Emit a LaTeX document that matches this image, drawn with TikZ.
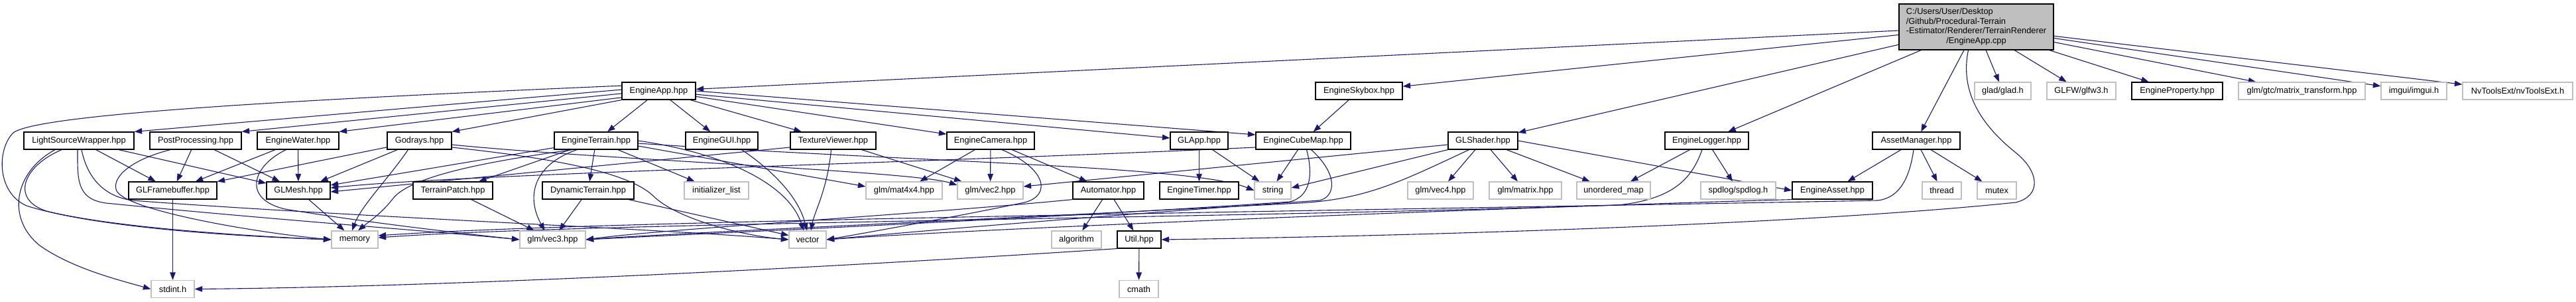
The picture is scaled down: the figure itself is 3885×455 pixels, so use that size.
\documentclass[tikz,border=0pt]{standalone}
\usepackage{fontspec}
\setmainfont{Liberation Sans}
\usetikzlibrary{arrows.meta}
\definecolor{edgec}{HTML}{191970}
\definecolor{greyb}{HTML}{BFBFBF}
\definecolor{rootg}{HTML}{BFBFBF}
\pgfdeclarelayer{bg}
\pgfsetlayers{bg,main}
\begin{document}
\begin{tikzpicture}[x=1pt,y=-1pt,
  every node/.style={font=\fontsize{12.8}{14.8}\selectfont, inner sep=0pt, minimum height=26pt, line width=1.2pt, fill=white},
  hdr/.style={draw=black},
  ext/.style={draw=greyb},
  e/.style={draw=edgec, line width=1.1pt, -{Triangle[length=11.5pt,width=8.5pt]}}]
\useasboundingbox (0,0) rectangle (3885,455);
% root
\node[hdr, fill=rootg, minimum width=233pt, minimum height=69pt] (root) at (2980.5,40.5)
 {\begin{tabular}{@{}l@{}}C:/Users/User/Desktop\\/Github/Procedural-Terrain\\-Estimator/Renderer/TerrainRenderer\\\multicolumn{1}{@{}c@{}}{/EngineApp.cpp}\end{tabular}};
% row A
\node[hdr, minimum width=111pt] (EA) at (993.5,137) {EngineApp.hpp};
\node[hdr, minimum width=131pt] (Sky) at (2049.5,137) {EngineSkybox.hpp};
\node[ext, minimum width=85pt] (glad) at (3020.5,137) {glad/glad.h};
\node[ext, minimum width=104pt] (glfw) at (3139,137) {GLFW/glfw3.h};
\node[hdr, minimum width=137pt] (EProp) at (3283.5,137) {EngineProperty.hpp};
\node[ext, minimum width=191pt] (mtx) at (3471.5,137) {glm/gtc/matrix\_transform.hpp};
\node[ext, minimum width=99pt] (imgui) at (3640.5,137) {imgui/imgui.h};
\node[ext, minimum width=166pt] (nvt) at (3797,137) {NvToolsExt/nvToolsExt.h};
% row B
\node[hdr, minimum width=166pt] (LSW) at (119,212) {LightSourceWrapper.hpp};
\node[hdr, minimum width=138pt] (PP) at (295,212) {PostProcessing.hpp};
\node[hdr, minimum width=123pt] (EW) at (449.5,212) {EngineWater.hpp};
\node[hdr, minimum width=97pt] (God) at (632.5,212) {Godrays.hpp};
\node[hdr, minimum width=126pt] (ET) at (899,212) {EngineTerrain.hpp};
\node[hdr, minimum width=109pt] (GUI) at (1088.5,212) {EngineGUI.hpp};
\node[hdr, minimum width=129pt] (TV) at (1256.5,212) {TextureViewer.hpp};
\node[hdr, minimum width=132pt] (ECam) at (1494,212) {EngineCamera.hpp};
\node[hdr, minimum width=87pt] (GLApp) at (1808.5,212) {GLApp.hpp};
\node[hdr, minimum width=143pt] (ECM) at (1965.5,212) {EngineCubeMap.hpp};
\node[hdr, minimum width=105pt] (GLS) at (2236.5,212) {GLShader.hpp};
\node[hdr, minimum width=126pt] (ELog) at (2574,212) {EngineLogger.hpp};
\node[hdr, minimum width=132pt] (AM) at (2890,212) {AssetManager.hpp};
% row C
\node[hdr, minimum width=133pt] (GLFB) at (260.5,287) {GLFramebuffer.hpp};
\node[hdr, minimum width=96pt] (GLM) at (450,287) {GLMesh.hpp};
\node[hdr, minimum width=120pt] (TP) at (683,287) {TerrainPatch.hpp};
\node[hdr, minimum width=138pt] (DT) at (887,287) {DynamicTerrain.hpp};
\node[ext, minimum width=97pt] (il) at (1080.5,287) {initializer\_list};
\node[ext, minimum width=115pt] (mat4) at (1363.5,287) {glm/mat4x4.hpp};
\node[ext, minimum width=99pt] (vec2) at (1493.5,287) {glm/vec2.hpp};
\node[hdr, minimum width=107pt] (Auto) at (1671.5,287) {Automator.hpp};
\node[hdr, minimum width=119pt] (ETimer) at (1808.5,287) {EngineTimer.hpp};
\node[ext, minimum width=55pt] (str) at (1919.5,287) {string};
\node[ext, minimum width=99pt] (vec4) at (2172.5,287) {glm/vec4.hpp};
\node[ext, minimum width=109pt] (gmat) at (2300.5,287) {glm/matrix.hpp};
\node[ext, minimum width=111pt] (umap) at (2433.5,287) {unordered\_map};
\node[ext, minimum width=113pt] (spd) at (2621.5,287) {spdlog/spdlog.h};
\node[hdr, minimum width=121pt] (EAsset) at (2763.5,287) {EngineAsset.hpp};
\node[ext, minimum width=59pt] (thr) at (2928.5,287) {thread};
\node[ext, minimum width=59pt] (mtxx) at (3011.5,287) {mutex};
% row D
\node[ext, minimum width=70pt] (mem) at (535,361) {memory};
\node[ext, minimum width=99pt] (vec3) at (833.5,361) {glm/vec3.hpp};
\node[ext, minimum width=56pt] (vect) at (1218,361) {vector};
\node[ext, minimum width=75pt] (algo) at (1623.5,361) {algorithm};
\node[hdr, minimum width=66pt] (util) at (1718,361) {Util.hpp};
% row E
\node[ext, minimum width=65pt] (stdint) at (260.5,435.5) {stdint.h};
\node[ext, minimum width=59pt] (cmath) at (1717.5,435.5) {cmath};

\begin{pgfonlayer}{bg}
% root
\draw[e] (root) -- (EA);
\draw[e] (root) -- (Sky);
\draw[e] (root) -- (GLS);
\draw[e] (root) -- (ELog);
\draw[e] (root) -- (AM);
\draw[e] (root) -- (glad);
\draw[e] (root) -- (glfw);
\draw[e] (root) -- (EProp);
\draw[e] (root) -- (mtx);
\draw[e] (root) -- (imgui);
\draw[e] (root) -- (nvt);
\draw[e] ([xshift=-12pt]root.south) .. controls (2955,140) and (2990,190) .. (3040,230) .. controls (3075,258) and (3080,295) .. (3040,305) .. controls (2700,340) and (2100,356) .. (util.east);
% EngineApp.hpp
\draw[e] (EA.172) .. controls (500,148) and (60,170) .. (20,200) .. controls (-5,225) and (-5,290) .. (40,310) .. controls (150,345) and (380,357) .. (mem.west);
\draw[e] (EA.178) -- (LSW.north east);
\draw[e] (EA.184) -- (PP.north east);
\draw[e] (EA.190) -- (EW.north east);
\draw[e] (EA.south west) -- (God.north east);
\draw[e] (EA) -- (ET);
\draw[e] (EA) -- (GUI);
\draw[e] (EA) -- (TV);
\draw[e] (EA) -- (ECam);
\draw[e] (EA) -- (GLApp);
\draw[e] (EA.east) -- ([yshift=9pt]ECM.west);
% Skybox
\draw[e] (Sky) -- (ECM);
% LightSourceWrapper
\draw[e] (LSW) -- (GLFB);
\draw[e] (LSW) -- (GLM);
\draw[e] ([xshift=-36pt]LSW.south) .. controls (20,260) and (10,330) .. (60,370) .. controls (110,405) and (180,422) .. (stdint.west);
\draw[e] ([xshift=-26pt]LSW.south) .. controls (35,250) and (15,300) .. (70,318) .. controls (180,345) and (400,357) .. (mem.west);
\draw[e] ([xshift=-2pt]LSW.south) .. controls (117,270) and (115,300) .. (160,306) .. controls (400,330) and (650,348) .. (vec3.west);
\draw[e] ([xshift=4pt]LSW.south) .. controls (130,260) and (150,295) .. (200,302) .. controls (500,325) and (1000,345) .. (vect.west);
% PostProcessing
\draw[e] (PP) -- (GLFB);
\draw[e] (PP) -- (GLM);
\draw[e] ([xshift=-38pt]PP.south) .. controls (200,240) and (170,265) .. (175,285) .. controls (180,315) and (380,350) .. (mem.west);
% EngineWater
\draw[e] (EW) -- (GLFB);
\draw[e] (EW) -- (GLM);
\draw[e] ([xshift=-18pt]EW.south) .. controls (380,250) and (365,300) .. (430,315) .. controls (550,335) and (700,352) .. (vec3.west);
% Godrays
\draw[e] (God) -- (GLFB);
\draw[e] (God) -- (GLM);
\draw[e] ([xshift=-17pt]God.south) .. controls (585,270) and (545,310) .. ([xshift=-4pt]mem.north);
\draw[e] ([yshift=-6pt]God.east) .. controls (900,240) and (1380,258) .. ([yshift=8pt]vec2.west);
\draw[e] ([yshift=-10pt]God.east) .. controls (850,240) and (950,262) .. (985,295) .. controls (1020,330) and (1120,355) .. (vect.west);
% EngineTerrain
\draw[e] (ET) -- (GLM);
\draw[e] (ET) -- (TP);
\draw[e] (ET) -- (DT);
\draw[e] (ET) -- (il);
\draw[e] ([xshift=-36pt]ET.south) .. controls (760,240) and (620,262) .. (592,300) .. controls (575,322) and (555,335) .. ([xshift=5pt]mem.north);
\draw[e] ([xshift=-29pt]ET.south) .. controls (800,250) and (795,300) .. ([xshift=-12pt]vec3.north);
\draw[e] (ET.east) .. controls (1100,232) and (1190,280) .. ([xshift=-6pt]vect.north);
\draw[e] ([yshift=-8pt]ET.east) -- ([yshift=6pt]mat4.west);
\draw[e] ([yshift=-4pt]ET.east) .. controls (1400,245) and (1800,250) .. (str.west);
% EngineGUI
\draw[e] ([xshift=30pt]GUI.south) .. controls (1170,260) and (1205,300) .. ([xshift=-1pt]vect.north);
% TextureViewer
\draw[e] ([yshift=-10pt]TV.west) -- ([yshift=-2pt]GLM.east);
\draw[e] ([xshift=-3pt]TV.south) .. controls (1248,285) and (1228,320) .. ([xshift=5pt]vect.north);
\draw[e] (TV) -- (vec2);
% EngineCamera
\draw[e] (ECam) -- (mat4);
\draw[e] (ECam) -- (vec2);
\draw[e] (ECam) -- (Auto);
\draw[e] ([xshift=17pt]ECam.south) .. controls (1580,255) and (1585,295) .. (1545,305) .. controls (1450,325) and (1300,352) .. (vect.east);
% GLApp
\draw[e] (GLApp) -- (ETimer);
\draw[e] (GLApp) -- (str);
% EngineCubeMap
\draw[e] ([yshift=-10pt]ECM.west) .. controls (1400,245) and (700,262) .. ([yshift=4pt]GLM.east);
\draw[e] ([xshift=-8pt]ECM.south) -- ([xshift=6pt]str.north);
\draw[e] ([xshift=5pt]ECM.south) .. controls (1980,260) and (1978,296) .. (1945,304) .. controls (1600,328) and (1100,350) .. (vec3.east);
\draw[e] ([xshift=12pt]ECM.south) .. controls (2018,262) and (2015,296) .. (1990,302) .. controls (1700,322) and (1400,347) .. (vect.east);
% GLShader
\draw[e] ([yshift=-6pt]GLS.west) -- ([yshift=6pt]vec2.east);
\draw[e] (GLS.south west) -- ([yshift=4pt]str.east);
\draw[e] (GLS) -- (vec4);
\draw[e] (GLS) -- (gmat);
\draw[e] (GLS) -- (umap);
\draw[e] (GLS.east) -- (EAsset.west);
\draw[e] ([xshift=-21pt]GLS.south) .. controls (2110,275) and (2060,300) .. (1960,306) .. controls (1500,330) and (1000,352) .. (vec3.east);
% EngineLogger
\draw[e] (ELog) -- (umap);
\draw[e] (ELog) -- (spd);
\draw[e] ([xshift=-7pt]ELog.south) .. controls (2552,268) and (2525,300) .. (2440,309) .. controls (1800,330) and (900,335) .. ([yshift=3pt]mem.east);
% AssetManager
\draw[e] (AM) -- (EAsset);
\draw[e] (AM) -- (thr);
\draw[e] (AM) -- (mtxx);
\draw[e] ([xshift=-4pt]AM.south) .. controls (2880,268) and (2865,298) .. (2832,302) .. controls (2000,318) and (900,332) .. ([yshift=6pt]mem.east);
% EngineAsset
\draw[e] (EAsset.south west) .. controls (2300,312) and (1500,343) .. (vect.east);
% Automator
\draw[e] (Auto) -- (algo);
\draw[e] (Auto) -- (util);
\draw[e] (Auto.south west) .. controls (1400,322) and (1000,345) .. (vec3.east);
% others
\draw[e] (GLFB) -- (stdint);
\draw[e] (GLM) -- (mem);
\draw[e] (TP) -- (vec3);
\draw[e] (DT) -- (vec3);
\draw[e] (DT) -- (vect);
\draw[e] (util) -- (cmath);
\draw[e] (util.south west) .. controls (1300,400) and (700,432) .. (stdint.east);
\end{pgfonlayer}
\end{tikzpicture}
\end{document}
